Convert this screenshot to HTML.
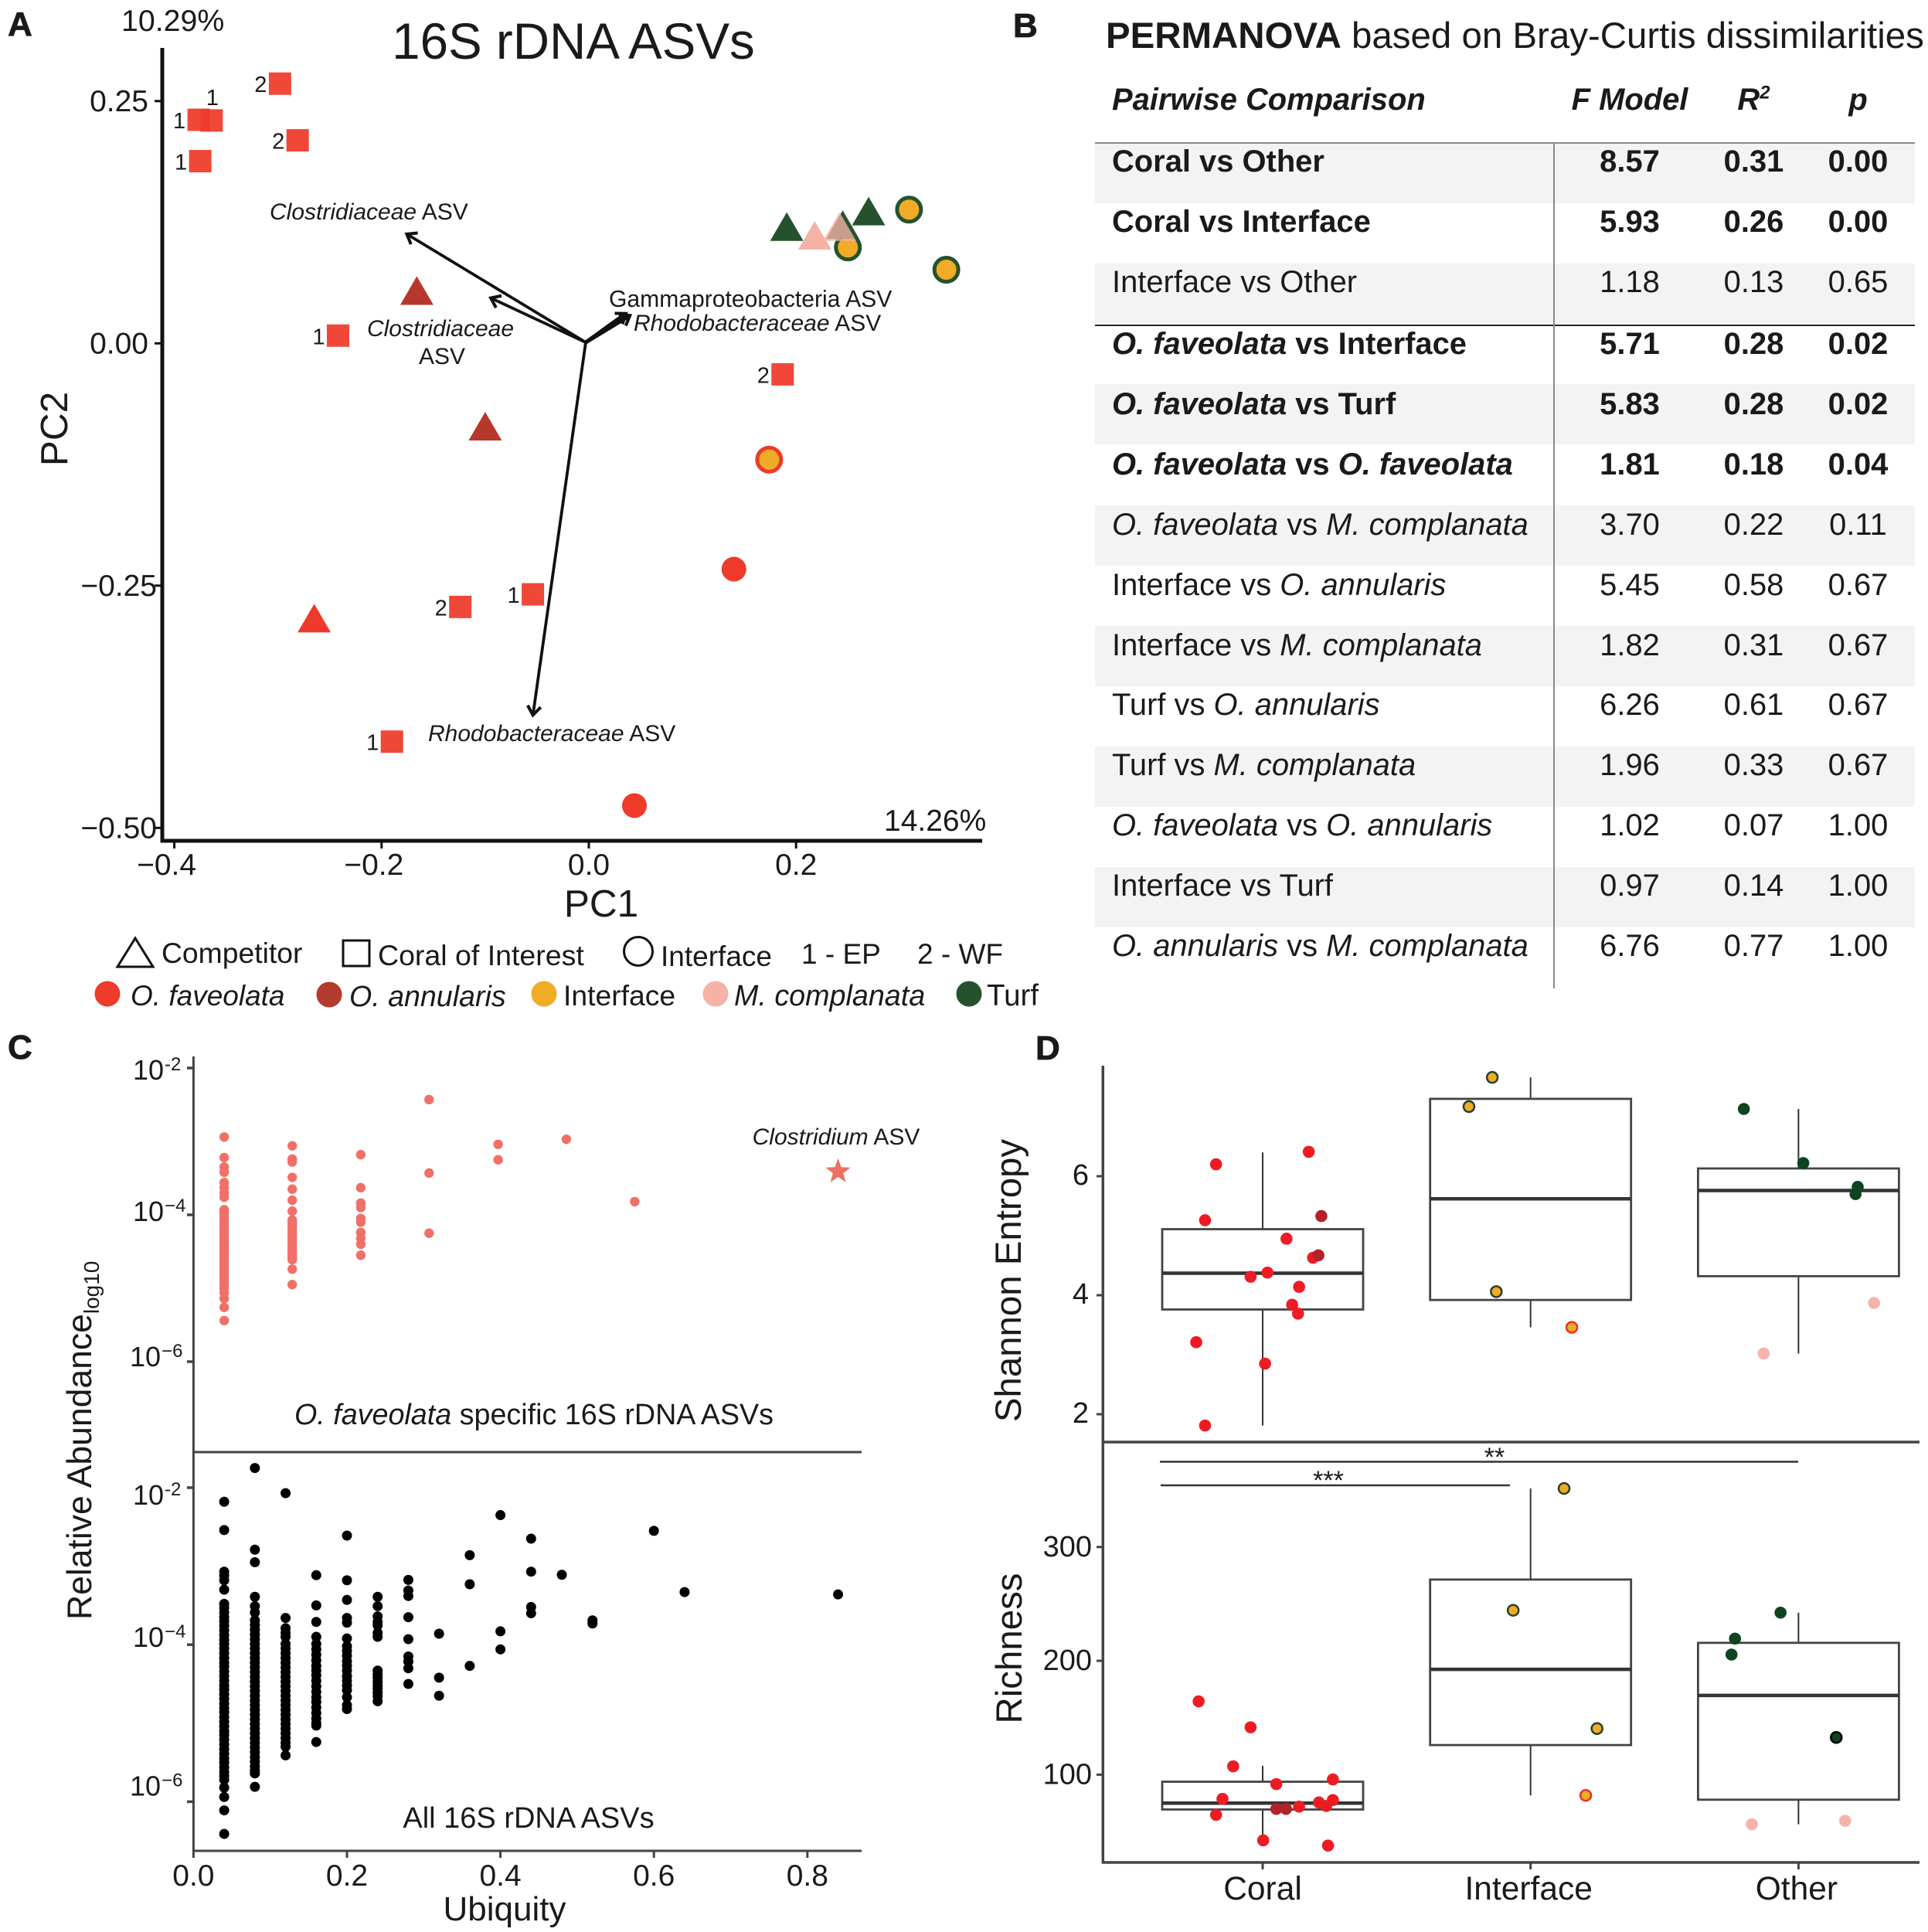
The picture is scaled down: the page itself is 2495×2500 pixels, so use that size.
<!DOCTYPE html>
<html lang="en">
<head>
<meta charset="utf-8">
<title>16S rDNA ASV figure</title>
<style>
html,body{margin:0;padding:0;background:#fff;}
body{width:2495px;height:2500px;position:relative;overflow:hidden;font-family:"Liberation Sans",Arial,sans-serif;color:#1a1a1a;}
#figure{position:absolute;left:0;top:0;}
#figure text{font-family:"Liberation Sans",Arial,sans-serif;fill:#1a1a1a;}
#permanova-table{position:absolute;left:1417px;top:106.9px;width:1061px;border-collapse:collapse;table-layout:fixed;font-size:39.9px;line-height:40px;}
#permanova-table td,#permanova-table th{height:78.1px;box-sizing:border-box;padding:4px 0 0 0;vertical-align:top;font-weight:normal;text-align:center;}
#permanova-table td:first-child,#permanova-table th:first-child{text-align:left;padding-left:22px;white-space:nowrap;}
#permanova-table th{font-weight:bold;font-style:italic;padding-top:2px;}
#permanova-table sup{font-size:24px;line-height:0;}
#permanova-table tr.s td{background:#f3f3f3;}
#permanova-table tr.b td{font-weight:bold;}
#permanova-table tbody tr:nth-child(n+4):nth-child(-n+9) td{padding-top:5.5px;}
.rule{position:absolute;}
</style>
</head>
<body>
<svg id="figure" width="2495" height="2500" viewBox="0 0 2495 2500" xmlns="http://www.w3.org/2000/svg">
  <defs>
    <marker id="arrow-head" markerWidth="30" markerHeight="30" viewBox="-15 -15 30 30" refX="0" refY="0" orient="auto" markerUnits="userSpaceOnUse">
      <path d="M-12,-8.5 L-0.5,0 L-12,8.5" fill="none" stroke="#111" stroke-width="4"/>
    </marker>
  </defs>

  <g id="panel-a">
    <text x="10" y="46" font-size="44" font-weight="bold" stroke="#1a1a1a" stroke-width="0.8">A</text>
    <text x="742" y="76" font-size="65.5" text-anchor="middle">16S rDNA ASVs</text>
    <text x="157" y="40" font-size="39.3">10.29%</text>
    <text x="1144" y="1075" font-size="39">14.26%</text>
    <line x1="210" y1="62" x2="210" y2="1090" stroke="#111" stroke-width="5"/>
    <line x1="208" y1="1088" x2="1271" y2="1088" stroke="#111" stroke-width="5"/>
    <text x="778" y="1186" font-size="49.5" text-anchor="middle">PC1</text>
    <text transform="translate(87,555) rotate(-90)" font-size="49.5" text-anchor="middle">PC2</text>
    <text x="349" y="284" font-size="30"><tspan font-style="italic">Clostridiaceae</tspan> ASV</text>
    <text x="570" y="435" font-size="30" text-anchor="middle" font-style="italic">Clostridiaceae</text>
    <text x="572" y="471" font-size="30" text-anchor="middle">ASV</text>
    <text x="788" y="397" font-size="30.1">Gammaproteobacteria ASV</text>
    <text x="820" y="428" font-size="30"><tspan font-style="italic">Rhodobacteraceae</tspan> ASV</text>
    <text x="554" y="959" font-size="30"><tspan font-style="italic">Rhodobacteraceae</tspan> ASV</text>
  </g>

  <g id="legend">
    <polygon points="175,1214 152,1251 198,1251" fill="none" stroke="#111" stroke-width="3"/>
    <text x="209" y="1246" font-size="37.3">Competitor</text>
    <rect x="444" y="1217" width="34" height="33" fill="none" stroke="#111" stroke-width="3"/>
    <text x="489" y="1249" font-size="37.5">Coral of Interest</text>
    <circle cx="826" cy="1231" r="18.5" fill="none" stroke="#111" stroke-width="3"/>
    <text x="855" y="1250" font-size="37">Interface</text>
    <text x="1037" y="1247" font-size="37">1 - EP</text>
    <text x="1187" y="1247" font-size="37">2 - WF</text>
    <circle cx="139" cy="1286" r="16.5" fill="#ee3b2c"/>
    <text x="169" y="1301" font-size="37" font-style="italic">O. faveolata</text>
    <circle cx="426" cy="1287" r="16.5" fill="#b23a2e"/>
    <text x="452" y="1302" font-size="37.6" font-style="italic">O. annularis</text>
    <circle cx="704" cy="1286" r="16.5" fill="#f0ab27"/>
    <text x="729" y="1301" font-size="37.3">Interface</text>
    <circle cx="926" cy="1286" r="16.5" fill="#f5b2a6"/>
    <text x="950" y="1301" font-size="37.7" font-style="italic">M. complanata</text>
    <circle cx="1254" cy="1286" r="16.5" fill="#25522c"/>
    <text x="1277" y="1301" font-size="38.5">Turf</text>
  </g>

  <g id="panel-b-head">
    <text x="1311" y="48" font-size="44" font-weight="bold" stroke="#1a1a1a" stroke-width="0.8">B</text>
    <text x="1431" y="62" font-size="47.45"><tspan font-weight="bold">PERMANOVA</tspan> based on Bray-Curtis dissimilarities</text>
  </g>

  <g id="panel-c">
    <text x="10" y="1370" font-size="44" font-weight="bold" stroke="#1a1a1a" stroke-width="0.8">C</text>
    <line x1="250.4" y1="1367" x2="250.4" y2="2396" stroke="#444" stroke-width="3"/>
    <line x1="249" y1="2395" x2="1115" y2="2395" stroke="#444" stroke-width="3"/>
    <line x1="250" y1="1879" x2="1115" y2="1879" stroke="#444" stroke-width="3"/>
    <text transform="translate(118,2096) rotate(-90)" font-size="44.5">Relative Abundance<tspan font-size="28" dy="10">log10</tspan></text>
    <text x="653" y="2485" font-size="44" text-anchor="middle">Ubiquity</text>
    <text x="691" y="1843" font-size="37.7" text-anchor="middle"><tspan font-style="italic">O. faveolata</tspan> specific 16S rDNA ASVs</text>
    <text x="684" y="2365" font-size="38" text-anchor="middle">All 16S rDNA ASVs</text>
    <text x="1082" y="1481" font-size="30" text-anchor="middle"><tspan font-style="italic">Clostridium</tspan> ASV</text>
  </g>

  <g id="panel-d">
    <text x="1340" y="1371" font-size="44" font-weight="bold" stroke="#1a1a1a" stroke-width="0.8">D</text>
    <line x1="1427.3" y1="1379" x2="1427.3" y2="2411" stroke="#444" stroke-width="3.5"/>
    <line x1="1426" y1="2410" x2="2484" y2="2410" stroke="#444" stroke-width="3.5"/>
    <line x1="1427" y1="1866" x2="2484" y2="1866" stroke="#444" stroke-width="3.5"/>
    <text transform="translate(1321,1657) rotate(-90)" font-size="47.4" text-anchor="middle">Shannon Entropy</text>
    <text transform="translate(1322,2133) rotate(-90)" font-size="47.4" text-anchor="middle">Richness</text>
    <line x1="1501" y1="1891.5" x2="2327" y2="1891.5" stroke="#333" stroke-width="2.5"/>
    <text x="1934" y="1897" font-size="34" text-anchor="middle">**</text>
    <line x1="1502" y1="1922" x2="1954" y2="1922" stroke="#333" stroke-width="2.5"/>
    <text x="1719" y="1927" font-size="34" text-anchor="middle">***</text>
  </g>
</svg>

<table id="permanova-table">
  <colgroup><col style="width:593px"><col style="width:198px"><col style="width:123px"><col style="width:147px"></colgroup>
  <thead>
    <tr><th>Pairwise Comparison</th><th>F Model</th><th>R<sup>2</sup></th><th>p</th></tr>
  </thead>
  <tbody>
    <tr class="s b"><td>Coral vs Other</td><td>8.57</td><td>0.31</td><td>0.00</td></tr>
    <tr class="b"><td>Coral vs Interface</td><td>5.93</td><td>0.26</td><td>0.00</td></tr>
    <tr class="s"><td>Interface vs Other</td><td>1.18</td><td>0.13</td><td>0.65</td></tr>
    <tr class="b"><td><i>O. faveolata</i> vs Interface</td><td>5.71</td><td>0.28</td><td>0.02</td></tr>
    <tr class="s b"><td><i>O. faveolata</i> vs Turf</td><td>5.83</td><td>0.28</td><td>0.02</td></tr>
    <tr class="b"><td><i>O. faveolata</i> vs <i>O. faveolata</i></td><td>1.81</td><td>0.18</td><td>0.04</td></tr>
    <tr class="s"><td><i>O. faveolata</i> vs <i>M. complanata</i></td><td>3.70</td><td>0.22</td><td>0.11</td></tr>
    <tr><td>Interface vs <i>O. annularis</i></td><td>5.45</td><td>0.58</td><td>0.67</td></tr>
    <tr class="s"><td>Interface vs <i>M. complanata</i></td><td>1.82</td><td>0.31</td><td>0.67</td></tr>
    <tr><td>Turf vs <i>O. annularis</i></td><td>6.26</td><td>0.61</td><td>0.67</td></tr>
    <tr class="s"><td>Turf vs <i>M. complanata</i></td><td>1.96</td><td>0.33</td><td>0.67</td></tr>
    <tr><td><i>O. faveolata</i> vs <i>O. annularis</i></td><td>1.02</td><td>0.07</td><td>1.00</td></tr>
    <tr class="s"><td>Interface vs Turf</td><td>0.97</td><td>0.14</td><td>1.00</td></tr>
    <tr><td><i>O. annularis</i> vs <i>M. complanata</i></td><td>6.76</td><td>0.77</td><td>1.00</td></tr>
  </tbody>
</table>
<div class="rule" style="left:1417px;top:184px;width:1061px;height:2px;background:#8a8a8a"></div>
<div class="rule" style="left:1417px;top:420px;width:1061px;height:2px;background:#222"></div>
<div class="rule" style="left:2009.5px;top:185px;width:2px;height:1094px;background:#8a8a8a"></div>

<script>
/* ---------- Panel A data ---------- */
const pcoaXTicks = [-0.4, -0.2, 0.0, 0.2];
const pcoaXTickLabels = ['\u22120.4', '\u22120.2', '0.0', '0.2'];
const pcoaYTicks = [0.25, 0.0, -0.25, -0.5];
const pcoaYTickLabels = ['0.25', '0.00', '\u22120.25', '\u22120.50'];
const coralPC1 = [-0.298, -0.281, -0.3765, -0.364, -0.375, -0.242, 0.187, -0.054, -0.124, -0.190];
const coralPC2 = [0.268, 0.2095, 0.2307, 0.230, 0.188, 0.008, -0.032, -0.259, -0.272, -0.411];
const coralSites = ['2', '2', '1', '1', '1', '1', '2', '1', '2', '1'];
const faveolataCirclePC1 = [0.140, 0.044];
const faveolataCirclePC2 = [-0.233, -0.477];
const interfaceRedPC1 = [0.174];
const interfaceRedPC2 = [-0.120];
const interfaceGreenPC1 = [0.250, 0.309, 0.345];
const interfaceGreenPC2 = [0.099, 0.138, 0.076];
const annularisTriPC1 = [-0.166, -0.100];
const annularisTriPC2 = [0.053, -0.087];
const faveolataTriPC1 = [-0.265];
const faveolataTriPC2 = [-0.285];
const turfTriPC1 = [0.191, 0.245, 0.270];
const turfTriPC2 = [0.119, 0.121, 0.135];
const complanataTriPC1 = [0.218, 0.242];
const complanataTriPC2 = [0.110, 0.119];
const vectorPC1 = [-0.176, -0.095, 0.040, 0.036, -0.054];
const vectorPC2 = [0.113, 0.047, 0.029, 0.031, -0.384];

/* ---------- Panel C data (log10 relative abundance) ---------- */
const ubiquityTicks = [0.0, 0.2, 0.4, 0.6, 0.8];
const ubiquityTickLabels = ['0.0', '0.2', '0.4', '0.6', '0.8'];
const abundanceTicks = [-2, -4, -6];
const abundanceTickLabels = ['-2', '\u22124', '\u22126'];
const specificUbiquity = [0.04, 0.1287, 0.218, 0.307, 0.397, 0.486, 0.575];
const specificLogAbundance = [
  [-2.94,-3.22,-3.35,-3.42,-3.56,-3.63,-3.70,-3.76,-3.93,-3.97,-4.01,-4.06,-4.10,-4.14,-4.19,-4.23,-4.27,-4.31,-4.35,-4.39,-4.43,-4.47,-4.51,-4.55,-4.59,-4.63,-4.67,-4.71,-4.75,-4.79,-4.83,-4.87,-4.91,-4.95,-5.0,-5.06,-5.14,-5.26,-5.44],
  [-3.06,-3.24,-3.28,-3.49,-3.65,-3.80,-3.95,-4.07,-4.11,-4.15,-4.19,-4.23,-4.27,-4.31,-4.35,-4.39,-4.43,-4.47,-4.51,-4.55,-4.58,-4.61,-4.74,-4.95],
  [-3.18,-3.63,-3.84,-3.90,-4.05,-4.10,-4.24,-4.32,-4.40,-4.55],
  [-2.43,-3.43,-4.25],
  [-3.04,-3.25],
  [-2.97],
  [-3.82]
];
const clostridiumUbiquity = [0.84];
const clostridiumLogAbundance = [-3.41];
const allUbiquity = [0.04,0.08,0.12,0.16,0.20,0.24,0.28,0.32,0.36,0.40,0.44,0.48,0.52,0.60,0.64,0.84];
const allLogAbundance = [
  [-2.18,-2.54,-3.07,-3.12,-3.18,-3.30,-3.48,-3.53,-3.59,-3.65,-3.7,-3.76,-3.82,-3.88,-3.94,-3.99,-4.05,-4.11,-4.17,-4.23,-4.28,-4.34,-4.4,-4.46,-4.52,-4.57,-4.63,-4.69,-4.75,-4.81,-4.86,-4.92,-4.98,-5.04,-5.1,-5.15,-5.21,-5.27,-5.33,-5.39,-5.45,-5.5,-5.56,-5.62,-5.67,-5.72,-5.82,-5.94,-6.11,-6.41],
  [-1.75,-2.79,-2.95,-3.39,-3.51,-3.59,-3.69,-3.75,-3.81,-3.87,-3.93,-3.99,-4.05,-4.11,-4.17,-4.23,-4.29,-4.35,-4.41,-4.47,-4.53,-4.59,-4.65,-4.71,-4.77,-4.83,-4.89,-4.95,-5.01,-5.07,-5.13,-5.19,-5.25,-5.31,-5.37,-5.43,-5.49,-5.55,-5.60,-5.64,-5.81],
  [-2.07,-3.66,-3.79,-3.85,-3.90,-3.99,-4.05,-4.11,-4.17,-4.23,-4.29,-4.35,-4.41,-4.47,-4.53,-4.59,-4.65,-4.71,-4.77,-4.83,-4.89,-4.95,-5.01,-5.07,-5.13,-5.19,-5.25,-5.30,-5.41],
  [-3.115,-3.50,-3.71,-3.90,-3.99,-4.06,-4.13,-4.2,-4.27,-4.33,-4.39,-4.46,-4.53,-4.6,-4.67,-4.73,-4.8,-4.87,-4.94,-5.0,-5.03,-5.24],
  [-2.61,-3.18,-3.43,-3.66,-3.72,-3.92,-4.02,-4.08,-4.14,-4.21,-4.27,-4.33,-4.4,-4.46,-4.52,-4.58,-4.67,-4.77,-4.82],
  [-3.39,-3.51,-3.64,-3.71,-3.755,-3.85,-3.90,-4.33,-4.38,-4.42,-4.47,-4.52,-4.56,-4.61,-4.66,-4.72],
  [-3.175,-3.31,-3.38,-3.65,-3.93,-4.15,-4.215,-4.30,-4.50],
  [-3.86,-4.42,-4.65],
  [-2.86,-3.23,-4.27],
  [-2.35,-3.83,-4.06],
  [-2.65,-3.07,-3.52,-3.60],
  [-3.11],
  [-3.69,-3.73],
  [-2.55],
  [-3.33],
  [-3.36]
];

/* ---------- Panel D data ---------- */
const groupNames = ['Coral', 'Interface', 'Other'];
const shannonTicks = [6, 4, 2];
const richnessTicks = [300, 200, 100];
const shannonQ1 = [3.76, 3.92, 4.32];
const shannonMedian = [4.37, 5.62, 5.76];
const shannonQ3 = [5.11, 7.30, 6.13];
const shannonLow = [1.81, 3.46, 3.02];
const shannonHigh = [6.40, 7.66, 7.13];
const richnessQ1 = [69.4, 126, 78];
const richnessMedian = [75, 192.5, 169.6];
const richnessQ3 = [93.8, 271.4, 215.8];
const richnessLow = [42, 81.8, 56.4];
const richnessHigh = [107.8, 351.4, 242.3];
/* point series: jitter (category units), value */
const shannonRedJitter = [-.174,.172,-.215,.089,.188,-.045,.018,.136,.110,.132,-.248,.009,-.215];
const shannonRedValue = [6.20,6.41,5.26,4.95,4.63,4.31,4.38,4.14,3.84,3.69,3.21,2.85,1.81];
const shannonDarkRedJitter = [.219,.208];
const shannonDarkRedValue = [5.33,4.67];
const shannonInterfaceJitter = [-.143,-.230,-.128];
const shannonInterfaceValue = [7.66,7.17,4.06];
const shannonInterfaceRedJitter = [.154];
const shannonInterfaceRedValue = [3.46];
const shannonTurfJitter = [-.204,.018,.221,.213];
const shannonTurfValue = [7.13,6.22,5.82,5.70];
const shannonPinkJitter = [-.130,.282];
const shannonPinkValue = [3.02,3.87];
const richnessRedJitter = [-.239,-.045,-.110,.051,.262,-.150,-.174,.136,.210,.237,.262,.002,.244];
const richnessRedValue = [164.4,141.6,107.3,91.7,95.8,78.7,64.7,71.9,75.6,72.5,77.7,42.3,37.7];
const richnessDarkRedJitter = [.051,.087];
const richnessDarkRedValue = [69.9,69.9];
const richnessInterfaceJitter = [.125,-.065,.248];
const richnessInterfaceValue = [351.4,244.4,140.5];
const richnessInterfaceRedJitter = [.206];
const richnessInterfaceRedValue = [81.8];
const richnessTurfJitter = [-.067,-.237,-.250];
const richnessTurfValue = [242.3,219.5,205.5];
const richnessBlackJitter = [.141];
const richnessBlackValue = [132.7];
const richnessPinkJitter = [-.174,.174];
const richnessPinkValue = [56.4,59.5];

/* ---------- helpers ---------- */
const NS = 'http://www.w3.org/2000/svg';
function add(parent, tag, attrs, text) {
  const n = document.createElementNS(NS, tag);
  for (const k in attrs) n.setAttribute(k, attrs[k]);
  if (text !== undefined) n.textContent = text;
  parent.appendChild(n);
  return n;
}
function triPoints(cx, cy, w, h) {
  return (cx) + ',' + (cy - h * 0.55) + ' ' + (cx - w / 2) + ',' + (cy + h * 0.45) + ' ' + (cx + w / 2) + ',' + (cy + h * 0.45);
}

/* ---------- Panel A ---------- */
const panelA = document.getElementById('panel-a');
const ax = v => 762 + 1341 * v;
const ay = v => 444.3 - 1254 * v;
pcoaXTicks.forEach((v, i) => {
  const tick = add(panelA, 'line', {x1: ax(v), x2: ax(v), y1: 1090, y2: 1098, stroke: '#111', 'stroke-width': 3});
  
  
  const label = add(panelA, 'text', {x: ax(v) + (v < 0 ? -10 : 0), y: 1132, 'font-size': 39, 'text-anchor': 'middle'}, pcoaXTickLabels[i]);
  
  
});
pcoaYTicks.forEach((v, i) => {
  const tick = add(panelA, 'line', {x1: 200, x2: 208, y1: ay(v), y2: ay(v), stroke: '#111', 'stroke-width': 3});
  
  
  const label = add(panelA, 'text', {x: v < 0 ? 203 : 192, y: ay(v) + 13, 'font-size': 39, 'text-anchor': 'end'}, pcoaYTickLabels[i]);
  
  
});
vectorPC1.forEach((v, i) => {
  const vec = add(panelA, 'line', {x1: ax(-0.003), y1: ay(0.001), x2: ax(v), y2: ay(vectorPC2[i]), stroke: '#111', 'stroke-width': i === 2 || i === 3 ? 5 : 3.8, 'marker-end': 'url(#arrow-head)'});
  
  
});
coralPC1.forEach((v, i) => {
  const sq = add(panelA, 'rect', {x: ax(v) - 14.5, y: ay(coralPC2[i]) - 14.5, width: 29, height: 29, fill: '#ee3a2a', 'fill-opacity': 0.93});
  
  
  const above = i === 3;
  const label = add(panelA, 'text', {x: ax(v) + (above ? 1 : -25), y: ay(coralPC2[i]) + (above ? -20 : 11), 'font-size': 29, 'text-anchor': 'middle'}, coralSites[i]);
  
  
});
faveolataCirclePC1.forEach((v, i) => {
  const c = add(panelA, 'circle', {cx: ax(v), cy: ay(faveolataCirclePC2[i]), r: 16, fill: '#ee3a2a'});
  
  
});
interfaceRedPC1.forEach((v, i) => {
  const c = add(panelA, 'circle', {cx: ax(v), cy: ay(interfaceRedPC2[i]), r: 15.5, fill: '#f0ab27', stroke: '#ee3a2a', 'stroke-width': 5});
  
  
});
interfaceGreenPC1.forEach((v, i) => {
  const c = add(panelA, 'circle', {cx: ax(v), cy: ay(interfaceGreenPC2[i]), r: 15.5, fill: '#f0ab27', stroke: '#25522c', 'stroke-width': 5});
  
  
});
annularisTriPC1.forEach((v, i) => {
  const t = add(panelA, 'polygon', {points: triPoints(ax(v), ay(annularisTriPC2[i]), 43, 37), fill: '#b8372c'});
  
  
});
faveolataTriPC1.forEach((v, i) => {
  const t = add(panelA, 'polygon', {points: triPoints(ax(v), ay(faveolataTriPC2[i]), 43, 37), fill: '#ee3a2a'});
  
  
});
turfTriPC1.forEach((v, i) => {
  const t = add(panelA, 'polygon', {points: triPoints(ax(v), ay(turfTriPC2[i]), 43, 37), fill: '#25522c'});
  
  
});
complanataTriPC1.forEach((v, i) => {
  const t = add(panelA, 'polygon', {points: triPoints(ax(v), ay(complanataTriPC2[i]), 43, 37), fill: '#f5b2a6', 'fill-opacity': i === 1 ? 0.78 : 1});
  
  
});

/* ---------- Panel C ---------- */
const panelC = document.getElementById('panel-c');
const cx = v => 250.4 + 993 * v;
const cyTop = v => 1382 + (-2 - v) * 95;
const cyBottom = v => 1925 + (-2 - v) * 101.6;
ubiquityTicks.forEach((v, i) => {
  const tick = add(panelC, 'line', {x1: cx(v), x2: cx(v), y1: 2396, y2: 2404, stroke: '#444', 'stroke-width': 3});
  
  
  const label = add(panelC, 'text', {x: cx(v), y: 2440, 'font-size': 39, 'text-anchor': 'middle'}, ubiquityTickLabels[i]);
  
  
});
[cyTop, cyBottom].forEach((scale, s) => {
  abundanceTicks.forEach((v, i) => {
    const tick = add(panelC, 'line', {x1: 242, x2: 250, y1: scale(v), y2: scale(v), stroke: '#444', 'stroke-width': 3.5});
    
    
    /* the reference labels sit slightly off their ticks, more so further down each axis */
    const nudge = s === 0 ? [-1, -8, -10][i] : [6, -13, -24][i];
    const label = add(panelC, 'text', {x: i === 2 ? 168 : 172, y: scale(v) + 16 + nudge, 'font-size': 36}, '10');
    
    
    add(label, 'tspan', {'font-size': 24, dy: -12, dx: 1}, abundanceTickLabels[i]);
  });
});
specificUbiquity.forEach((u, i) => {
  specificLogAbundance[i].forEach(v => {
    const dot = add(panelC, 'circle', {cx: cx(u), cy: cyTop(v), r: 6.2, fill: '#f07068'});
    
    
  });
});
clostridiumUbiquity.forEach((u, i) => {
  const x0 = cx(u), y0 = cyTop(clostridiumLogAbundance[i]);
  let pts = '';
  for (let k = 0; k < 10; k++) {
    const r = k % 2 ? 7 : 17, a = -Math.PI / 2 + k * Math.PI / 5;
    pts += (x0 + r * Math.cos(a)) + ',' + (y0 + r * Math.sin(a)) + ' ';
  }
  const star = add(panelC, 'polygon', {points: pts, fill: '#ee6f66'});
  
  
});
allUbiquity.forEach((u, i) => {
  allLogAbundance[i].forEach(v => {
    const dot = add(panelC, 'circle', {cx: cx(u), cy: cyBottom(v), r: 6.5, fill: '#000'});
    
    
  });
});

/* ---------- Panel D ---------- */
const panelD = document.getElementById('panel-d');
const dx = c => 1634 + 346.7 * c;
const dyShannon = v => 1522 + (6 - v) * 77;
const dyRichness = v => 2001.8 + (300 - v) * 1.473;
shannonTicks.forEach(v => {
  const tick = add(panelD, 'line', {x1: 1419, x2: 1426, y1: dyShannon(v), y2: dyShannon(v), stroke: '#444', 'stroke-width': 3});
  
  
  const label = add(panelD, 'text', {x: 1409, y: dyShannon(v) + 11, 'font-size': 38, 'text-anchor': 'end'}, String(v));
  
  
});
richnessTicks.forEach(v => {
  const tick = add(panelD, 'line', {x1: 1419, x2: 1426, y1: dyRichness(v), y2: dyRichness(v), stroke: '#444', 'stroke-width': 3});
  
  
  const label = add(panelD, 'text', {x: 1413, y: dyRichness(v) + 12, 'font-size': 38, 'text-anchor': 'end'}, String(v));
  
  
});
groupNames.forEach((name, i) => {
  const tick = add(panelD, 'line', {x1: dx(i), x2: dx(i), y1: 2411, y2: 2419, stroke: '#444', 'stroke-width': 3});
  
  
  const label = add(panelD, 'text', {x: dx(i) + (i === 0 ? 0 : -2.5), y: 2458, 'font-size': 42.5, 'text-anchor': 'middle'}, name);
  
  
});
function drawBox(scale, q1, med, q3, lo, hi, i) {
  const wHi = add(panelD, 'line', {x1: dx(i), x2: dx(i), y1: scale(hi), y2: scale(q3), stroke: '#333', 'stroke-width': 2});
  
  
  const wLo = add(panelD, 'line', {x1: dx(i), x2: dx(i), y1: scale(q1), y2: scale(lo), stroke: '#333', 'stroke-width': 2});
  
  
  const box = add(panelD, 'rect', {x: dx(i) - 130, y: scale(q3), width: 260, height: scale(q1) - scale(q3), fill: '#fff', stroke: '#444', 'stroke-width': 2.8});
  
  
  const m = add(panelD, 'line', {x1: dx(i) - 130, x2: dx(i) + 130, y1: scale(med), y2: scale(med), stroke: '#333', 'stroke-width': 4.5});
  
  
}
groupNames.forEach((name, i) => {
  drawBox(dyShannon, shannonQ1[i], shannonMedian[i], shannonQ3[i], shannonLow[i], shannonHigh[i], i);
  drawBox(dyRichness, richnessQ1[i], richnessMedian[i], richnessQ3[i], richnessLow[i], richnessHigh[i], i);
});
function drawPoints(scale, group, jitter, values, fill, stroke) {
  jitter.forEach((j, i) => {
    const attrs = {cx: dx(group + j), cy: scale(values[i]), r: stroke ? 7 : 7.8, fill: fill};
    if (stroke) { attrs.stroke = stroke; attrs['stroke-width'] = 2.5; }
    const dot = add(panelD, 'circle', attrs);
    
    
  });
}
drawPoints(dyShannon, 0, shannonRedJitter, shannonRedValue, '#ed1c24');
drawPoints(dyShannon, 0, shannonDarkRedJitter, shannonDarkRedValue, '#b2222a');
drawPoints(dyShannon, 1, shannonInterfaceJitter, shannonInterfaceValue, '#f0ab27', '#25402a');
drawPoints(dyShannon, 1, shannonInterfaceRedJitter, shannonInterfaceRedValue, '#f0ab27', '#ed2e24');
drawPoints(dyShannon, 2, shannonTurfJitter, shannonTurfValue, '#0f4420');
drawPoints(dyShannon, 2, shannonPinkJitter, shannonPinkValue, '#f6b3ab');
drawPoints(dyRichness, 0, richnessRedJitter, richnessRedValue, '#ed1c24');
drawPoints(dyRichness, 0, richnessDarkRedJitter, richnessDarkRedValue, '#b2222a');
drawPoints(dyRichness, 1, richnessInterfaceJitter, richnessInterfaceValue, '#f0ab27', '#25402a');
drawPoints(dyRichness, 1, richnessInterfaceRedJitter, richnessInterfaceRedValue, '#f0ab27', '#ed2e24');
drawPoints(dyRichness, 2, richnessTurfJitter, richnessTurfValue, '#0f4420');
drawPoints(dyRichness, 2, richnessBlackJitter, richnessBlackValue, '#0f4420', '#000');
drawPoints(dyRichness, 2, richnessPinkJitter, richnessPinkValue, '#f6b3ab');
</script>
</body>
</html>
